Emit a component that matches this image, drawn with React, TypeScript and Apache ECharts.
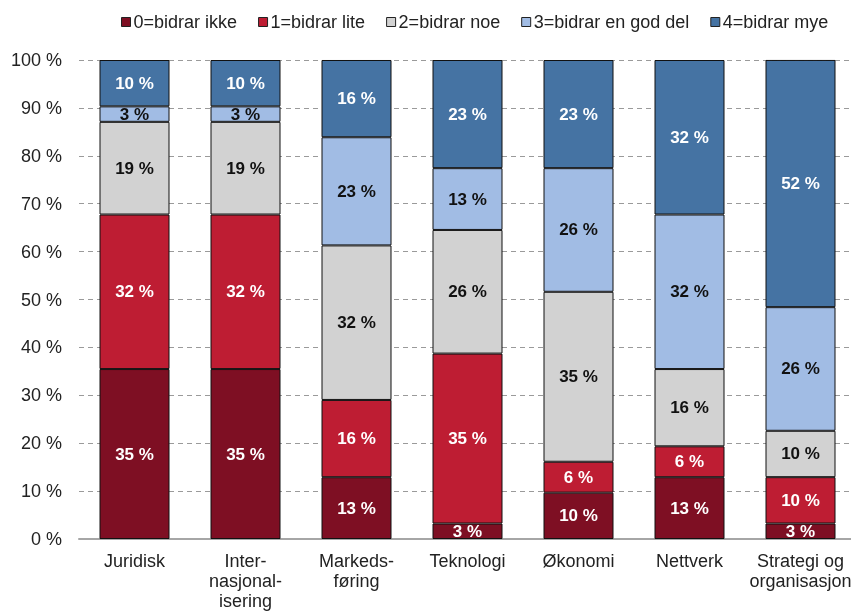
import React, { useEffect, useRef } from "react";
import * as echarts from "echarts";

const categories = [
  "Juridisk",
  "Inter-\nnasjonal-\nisering",
  "Markeds-\nføring",
  "Teknologi",
  "Økonomi",
  "Nettverk",
  "Strategi og\norganisasjon",
];

const seriesNames = [
  "0=bidrar ikke",
  "1=bidrar lite",
  "2=bidrar noe",
  "3=bidrar en god del",
  "4=bidrar mye",
];

const values0 = [35.48, 35.48, 12.9, 3.23, 9.68, 12.9, 3.23];
const values1 = [32.26, 32.26, 16.13, 35.48, 6.45, 6.45, 9.68];
const values2 = [19.35, 19.35, 32.26, 25.81, 35.48, 16.13, 9.68];
const values3 = [3.23, 3.23, 22.58, 12.9, 25.81, 32.26, 25.81];
const values4 = [9.68, 9.68, 16.13, 22.58, 22.58, 32.26, 51.61];

const seriesValues = [values0, values1, values2, values3, values4];
const colors = ["#7E0F23", "#BE1D33", "#D2D2D2", "#A1BCE4", "#4573A3"];
const labelColors = ["#ffffff", "#ffffff", "#111111", "#111111", "#ffffff"];

const FONT = "'Liberation Sans', Arial, sans-serif";

export default function App() {
  const ref = useRef<HTMLDivElement>(null);
  useEffect(() => {
    if (!ref.current) return;
    const chart = echarts.init(ref.current, null, { renderer: "svg" });
    chart.setOption({
      animation: false,
      textStyle: { fontFamily: FONT },
      legend: {
        top: 8,
        left: 116,
        itemWidth: 9,
        itemHeight: 9,
        itemGap: 21,
        icon: "rect",
        textStyle: { fontSize: 18, color: "#222", fontFamily: FONT, padding: [6, 0, 0, -2] },
        data: seriesNames.map((n, i) => ({
          name: n,
          itemStyle: { color: colors[i], borderColor: "#222", borderWidth: 1 },
        })),
      },
      grid: {
        left: 79,
        top: 60,
        width: 777,
        height: 479,
        containLabel: false,
        outerBoundsMode: "none",
      },
      xAxis: {
        type: "category",
        data: categories,
        axisLine: { lineStyle: { color: "#A6A6A6", width: 2 } },
        axisTick: { show: false },
        axisLabel: {
          fontSize: 18,
          color: "#222",
          fontFamily: FONT,
          margin: 12,
          lineHeight: 20,
          interval: 0,
        },
      },
      yAxis: {
        type: "value",
        min: 0,
        max: 100,
        interval: 10,
        axisLine: { show: false },
        axisTick: { show: false },
        axisLabel: {
          formatter: "{value} %",
          fontSize: 18,
          color: "#222",
          fontFamily: FONT,
          margin: 17,
        },
        splitLine: { lineStyle: { color: "#9A9A9A", type: [5, 4], width: 1 } },
      },
      series: seriesValues.map((vals, i) => ({
        name: seriesNames[i],
        type: "bar",
        stack: "total",
        barWidth: 70,
        data: vals,
        itemStyle: { color: colors[i], borderColor: "#111", borderWidth: 1 },
        label: {
          show: true,
          position: "inside",
          formatter: (p: any) => Math.round(p.value) + " %",
          color: labelColors[i],
          fontSize: 17,
          fontWeight: "bold",
          fontFamily: FONT,
        },
      })),
    });
    return () => chart.dispose();
  }, []);
  return (
    <div
      ref={ref}
      style={{ position: "fixed", left: 0, top: 0, width: 851, height: 612 }}
    />
  );
}
